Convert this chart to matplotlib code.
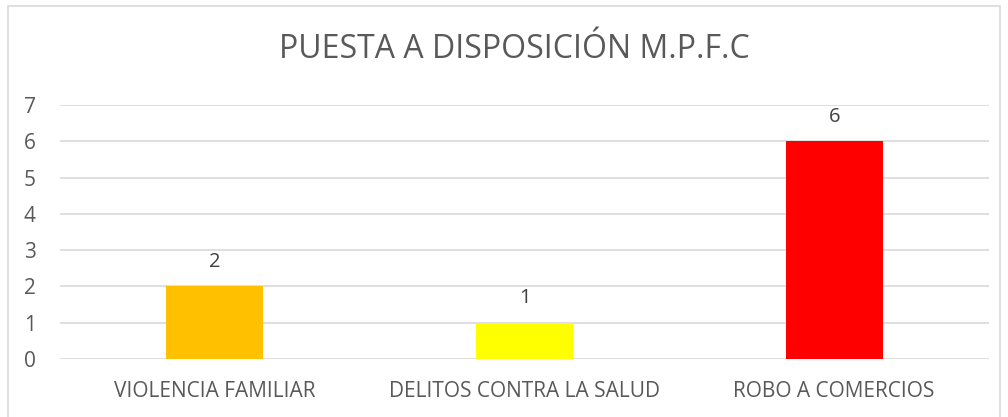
import matplotlib.pyplot as plt
from matplotlib.patches import Rectangle

categories = ['VIOLENCIA FAMILIAR', 'DELITOS CONTRA LA SALUD', 'ROBO A COMERCIOS']
values = [2, 1, 6]
colors = ['#FFC000', '#FFFF00', '#FF0000']
title = 'PUESTA A DISPOSICIÓN M.P.F.C'

plt.rcParams['font.family'] = ['Open Sans', 'DejaVu Sans']
text_color = '#595959'

fig = plt.figure(figsize=(10.08, 4.17), dpi=100)
# outer chart border
fig.patches.append(Rectangle((8 / 1008, -0.05), 992 / 1008, 1 - 6 / 417 + 0.05,
                             transform=fig.transFigure, fill=False,
                             edgecolor='#d9d9d9', linewidth=1.2))

ax = fig.add_axes([60 / 1008, 1 - 359 / 417, 929 / 1008, 254 / 417])
x = range(len(categories))
bars = ax.bar(x, values, width=0.313, color=colors, zorder=3)
for b, v in zip(bars, values):
    ax.text(b.get_x() + b.get_width() / 2, v + 0.4, str(v), ha='center', va='bottom',
            fontsize=14.5, color='#404040')

ax.set_ylim(0, 7)
ax.set_xlim(-0.5, len(categories) - 0.5)
ax.set_yticks(range(0, 8))
ax.set_xticks(list(x))
ax.set_xticklabels(categories)
ax.tick_params(axis='both', length=0, labelsize=15, labelcolor=text_color)
ax.tick_params(axis='x', pad=16)
ax.tick_params(axis='y', pad=26)
for lbl in ax.get_yticklabels():
    lbl.set_horizontalalignment('left')
ax.yaxis.grid(True, color='#d9d9d9', linewidth=1.2, zorder=0)
for s in ax.spines.values():
    s.set_visible(False)

fig.text(514 / 1008, 1 - 50 / 417, title, ha='center', va='center', fontsize=23,
         color=text_color)

plt.savefig('out.png', dpi=100)
